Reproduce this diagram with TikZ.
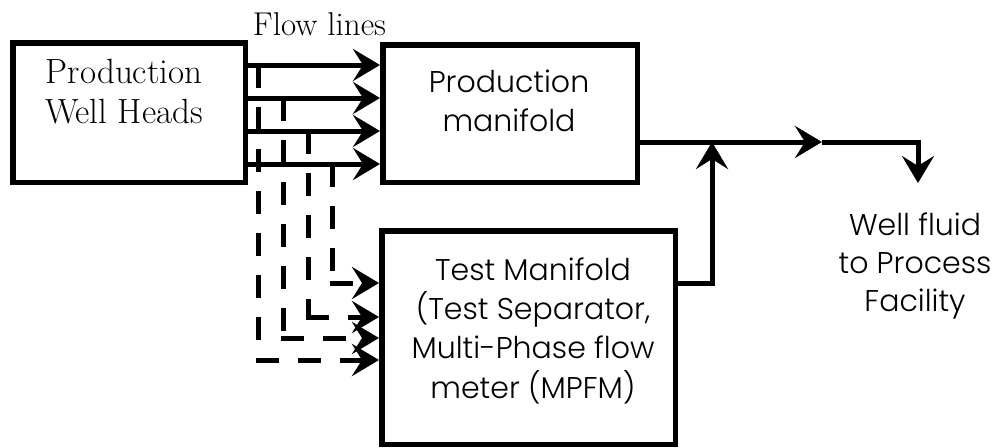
\documentclass[tikz,border=0pt]{standalone}
\usepackage{fontspec}
\newfontfamily\gothic{Poppins Light}
\usetikzlibrary{arrows.meta}

% centred stack of lines whose baseline is that of the first line
\newcommand\stacktext[1]{\begin{tabular}[t]{@{}c@{}}#1\end{tabular}}

\tikzset{
  unit/.style={draw, rectangle, line width=5.5pt, inner sep=0pt},
  pipe/.style={line width=5pt, line join=miter,
    -{Stealth[length=27pt, width=32pt, inset=10pt]}},
  testline/.style={pipe, dash pattern=on 23pt off 19pt},
  serifcap/.style={font=\fontsize{35}{40}\selectfont, inner sep=0pt, anchor=base},
  flowcap/.style={font=\fontsize{33}{38}\selectfont, inner sep=0pt, anchor=base},
  gothiccap/.style={font=\gothic\fontsize{30}{39}\selectfont, inner sep=0pt, anchor=base},
}

\begin{document}
\begin{tikzpicture}[x=1pt, y=-1pt]
\useasboundingbox (0,0) rectangle (995,447);

% process units
\node[unit, minimum width=232.5pt, minimum height=139.5pt] (wells)   at (129,112.5) {};
\node[unit, minimum width=254.5pt, minimum height=137.5pt] (prodman) at (510,113.5) {};
\node[unit, minimum width=293.5pt, minimum height=213.5pt] (testman) at (528.5,337.5) {};

% labels
\node[serifcap] (wellslabel) at (124,83) {\stacktext{Production\\Well Heads}};
\node[flowcap] (flowlabel) at (319.5,35) {Flow lines};
\node[gothiccap] (prodlabel) at (509,92) {\stacktext{Production\\manifold}};
\node[gothiccap] (testlabel) at (533,280)
  {\stacktext{Test Manifold\\(Test Separator,\\Multi-Phase flow\\meter (MPFM)}};
\node[gothiccap, font=\gothic\fontsize{30}{38}\selectfont] (fluidlabel) at (915,235)
  {\stacktext{Well fluid\\to Process\\Facility}};

% flow lines from the well heads to the production manifold
\foreach \y in {65,98,131,164}
  \draw[pipe] (wells.east |- 0,\y) -- (prodman.west |- 0,\y);

% branch points on the flow lines and the bends towards the test manifold
\coordinate (tap1) at (258,65);  \coordinate (bend1) at (258,360);
\coordinate (tap2) at (283,98);  \coordinate (bend2) at (283,338);
\coordinate (tap3) at (308,131); \coordinate (bend3) at (308,317);
\coordinate (tap4) at (332,164); \coordinate (bend4) at (332,283);

\foreach \i in {1,2,3,4}
  \draw[testline] (tap\i) -- (bend\i)
    ([xshift=-2.5pt]bend\i) -- (testman.west |- bend\i);

% outlet lines
\coordinate (merge) at (712,142);
\coordinate (outlet) at (822,142);
\coordinate (delivery) at (918,183);

\draw[pipe] (prodman.east |- outlet) -- (outlet);
\draw[pipe] (testman.east |- 0,283) -| (merge);
\draw[pipe] (outlet) -| (delivery);
\end{tikzpicture}
\end{document}
